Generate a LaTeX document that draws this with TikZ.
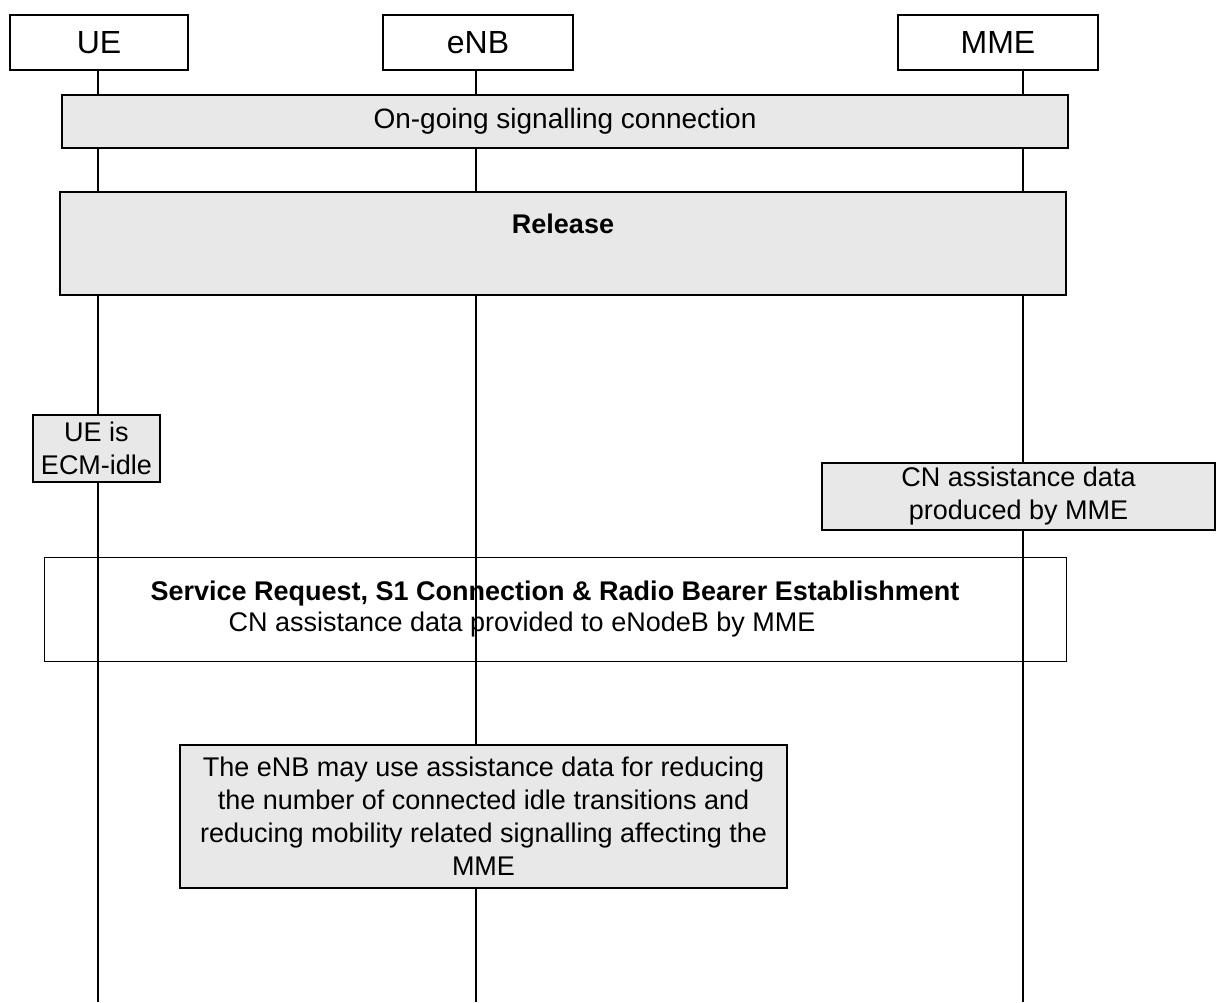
\documentclass[tikz,border=0pt]{standalone}
\usepackage{fontspec}
\setmainfont{Liberation Sans}
\usetikzlibrary{positioning}
\tikzset{
  entity/.style={rectangle, draw, line width=2.2pt, minimum height=55pt,
                 font=\fontsize{32}{38}\selectfont},
  lifeline/.style={line width=2pt},
  greybox/.style={rectangle, draw, line width=1.5pt, fill=gray!18,
                  align=center, font=\fontsize{27}{33}\selectfont},
  plainbox/.style={rectangle, draw, line width=1pt,
                   align=center, font=\fontsize{27}{31}\selectfont},
}
\begin{document}
\begin{tikzpicture}[x=1pt, y=-1pt]
  \useasboundingbox (0,0) rectangle (1217,1002);
  % entities
  \node[entity, minimum width=178pt] (ue)  at (99,42.5)   {UE};
  \node[entity, minimum width=190pt] (enb) at (478,42.5)  {eNB};
  \node[entity, minimum width=200pt] (mme) at (998,42.5)  {MME};
  \coordinate (ueend)  at (98,1002);
  \coordinate (enbend) at (476,1002);
  \coordinate (mmeend) at (1023,1002);
  % lifelines
  \draw[lifeline] (ue.south -| ueend)   -- (ueend);
  \draw[lifeline] (enb.south -| enbend) -- (enbend);
  \draw[lifeline] (mme.south -| mmeend) -- (mmeend);
  % procedure boxes
  \node[greybox, minimum width=1006pt, minimum height=53pt,
        font=\fontsize{28}{33}\selectfont] (ongoing) at (565,121.5)
    {On-going signalling connection};
  \node[greybox, minimum width=1006pt, minimum height=103pt] (release) at (563,243.5) {};
  \node[font=\fontsize{27}{33}\selectfont\bfseries, below=19pt of release.north] (reltxt) {Release};
  \node[greybox, minimum width=127pt, minimum height=67pt, inner sep=1pt] (idle) at (96.5,448.5)
    {UE is\\ ECM-idle};
  \node[greybox, minimum width=393pt, minimum height=67pt] (cnprod) at (1018.5,496.5)
    {CN assistance data\\produced by MME};
  \node[plainbox, minimum width=1022pt, minimum height=104pt] (svc) at (555,609)
    {\textbf{Service Request, S1 Connection \& Radio Bearer Establishment}\\
     \hspace*{-66pt}CN assistance data provided to eNodeB by MME};
  \node[greybox, minimum width=607pt, minimum height=143pt] (note) at (483.5,816.5)
    {The eNB may use assistance data for reducing\\
     the number of connected idle transitions and\\
     reducing mobility related signalling affecting the\\
     MME};
\end{tikzpicture}
\end{document}
